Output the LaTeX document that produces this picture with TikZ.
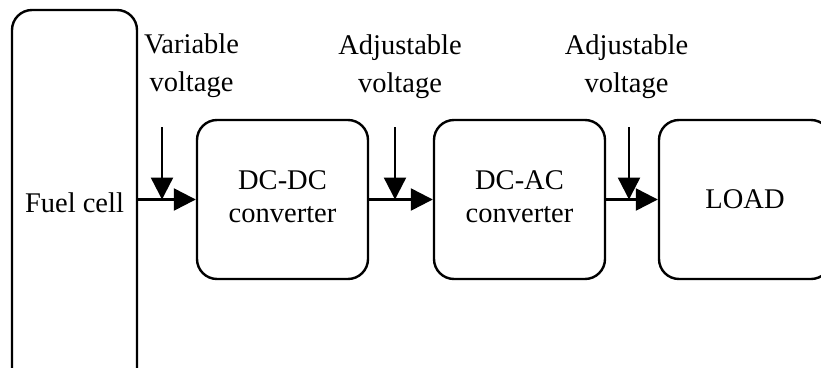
\documentclass[tikz,border=0pt]{standalone}
\usepackage{fontspec}
\setmainfont{Liberation Serif}
\usetikzlibrary{arrows.meta}
\begin{document}
\begin{tikzpicture}[x=1pt,y=-1pt,
  blk/.style={draw, line width=2.4pt, rounded corners=20pt, align=center,
    font=\fontsize{28.5}{33}\selectfont, inner sep=0pt},
  lbl/.style={align=center, font=\fontsize{28.5}{38}\selectfont, inner sep=0pt},
  flow/.style={line width=2.4pt, -{Triangle[length=22pt,width=22pt]}}]
\useasboundingbox (0,0) rectangle (821,367);
\begin{scope}
\clip (0,0) rectangle (821,367);
\node[blk, minimum width=125pt, minimum height=386pt] (fc) at (74.5,203) {Fuel cell};
\node[blk, minimum width=171pt, minimum height=159pt, text depth=5pt] (dcdc) at (282.5,199.5) {DC-DC\\converter};
\node[blk, minimum width=171pt, minimum height=159pt, text depth=5pt] (dcac) at (519.5,199.5) {DC-AC\\converter};
\node[blk, minimum width=172pt, minimum height=159pt] (load) at (745,199.5) {LOAD};
\draw[flow] (fc.east |- dcdc.west) -- (dcdc.west);
\draw[flow] (dcdc.east) -- (dcac.west);
\draw[flow] (dcac.east) -- (load.west);
\coordinate (v1) at (162,127);
\coordinate (v2) at (395,127);
\coordinate (v3) at (629,127);
\draw[flow] (v1) -- (v1 |- dcdc.west);
\draw[flow] (v2) -- (v2 |- dcdc.west);
\draw[flow] (v3) -- (v3 |- dcdc.west);
\node[lbl] (l1) at (191.5,66) {Variable\\voltage};
\node[lbl] (l2) at (400,67) {Adjustable\\voltage};
\node[lbl] (l3) at (626.5,67) {Adjustable\\voltage};
\end{scope}
\end{tikzpicture}
\end{document}
